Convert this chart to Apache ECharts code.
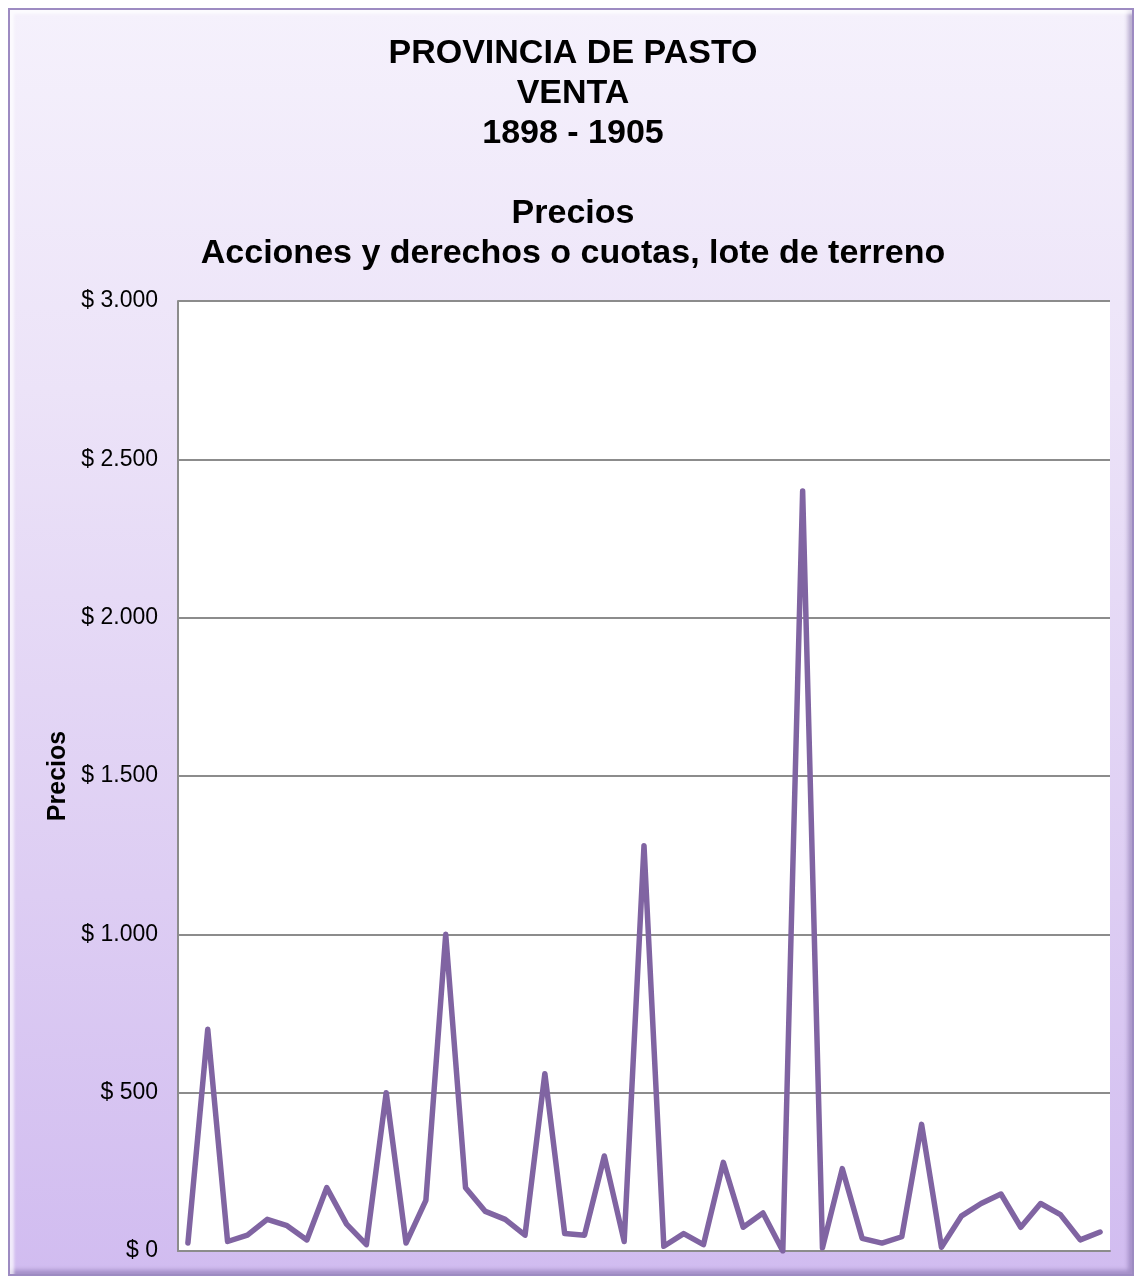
<!DOCTYPE html>
<html>
<head>
<meta charset="utf-8">
<title>Provincia de Pasto - Venta</title>
<script src="https://cdn.jsdelivr.net/npm/echarts@6/dist/echarts.min.js"></script>
<style>
  html, body { margin: 0; padding: 0; width: 1135px; height: 1280px; background: #ffffff; overflow: hidden; }
  .frame {
    position: absolute; left: 8px; top: 8px; width: 1122px; height: 1264px;
    border: 2px solid #9d8bc2;
    background: linear-gradient(to bottom, #f5f1fc 0%, #ece3f8 30%, #ddcdf3 70%, #d1bcf0 100%);
    box-shadow: inset 4px 4px 3px rgba(255,255,255,0.7), inset -4px -4px 4px rgba(110,90,150,0.45);
  }
  #chart { position: absolute; left: 0; top: 0; width: 1135px; height: 1280px; }
</style>
</head>
<body>
<div class="frame"></div>
<div id="chart"></div>
<script>
// valores de venta (47 registros)
const precios = [
  25, 700, 30, 50, 100, 80, 35, 200, 85, 20,
  500, 25, 160, 1000, 200, 125, 100, 50, 560, 55,
  50, 300, 30, 1280, 15, 55, 20, 280, 75, 120,
  0, 2400, 10, 260, 40, 25, 45, 400, 12, 110,
  150, 180, 75, 150, 115, 35, 60
];
// categorias: numero de registro (sin etiqueta visible en el eje)
const registros = precios.map((_, i) => String(i + 1));
const yTicks = [0, 500, 1000, 1500, 2000, 2500, 3000];
const titleLines = ['PROVINCIA DE PASTO', 'VENTA', '1898 - 1905', '', 'Precios', 'Acciones y derechos o cuotas, lote de terreno'];

const fmt = v => '$ ' + String(v).replace(/\B(?=(\d{3})+(?!\d))/g, '.');

const chart = echarts.init(document.getElementById('chart'));
chart.setOption({
  backgroundColor: 'transparent',
  animation: false,
  title: {
    text: titleLines.join('\n'),
    left: 568,
    textAlign: 'center',
    top: 29,
    textStyle: {
      fontFamily: 'Liberation Sans, Arial, sans-serif',
      fontWeight: 'bold',
      fontSize: 34,
      lineHeight: 40,
      color: '#000'
    }
  },
  grid: {
    left: 178, right: 25, top: 301, bottom: 29,
    show: true,
    backgroundColor: '#ffffff',
    borderWidth: 0
  },
  xAxis: {
    type: 'category',
    data: registros,
    boundaryGap: true,
    axisLine: { show: true, lineStyle: { color: '#8c8c8c', width: 2 } },
    axisTick: { show: false },
    axisLabel: { show: false }
  },
  yAxis: {
    type: 'value',
    min: yTicks[0],
    max: yTicks[yTicks.length - 1],
    interval: 500,
    name: 'Precios',
    nameLocation: 'middle',
    nameGap: 106,
    nameRotate: 90,
    nameTextStyle: {
      fontFamily: 'Liberation Sans, Arial, sans-serif',
      fontWeight: 'bold',
      fontSize: 25,
      color: '#000'
    },
    axisLine: { show: true, lineStyle: { color: '#8c8c8c', width: 2 } },
    axisTick: { show: false },
    axisLabel: {
      formatter: fmt,
      margin: 20,
      fontFamily: 'Liberation Sans, Arial, sans-serif',
      fontSize: 23,
      color: '#000'
    },
    splitLine: { show: true, lineStyle: { color: '#8c8c8c', width: 2 } }
  },
  series: [{
    name: 'Precios',
    type: 'line',
    data: precios,
    symbol: 'none',
    lineStyle: { color: '#8064a2', width: 5.5, join: 'round', cap: 'round' }
  }]
});
</script>
</body>
</html>
